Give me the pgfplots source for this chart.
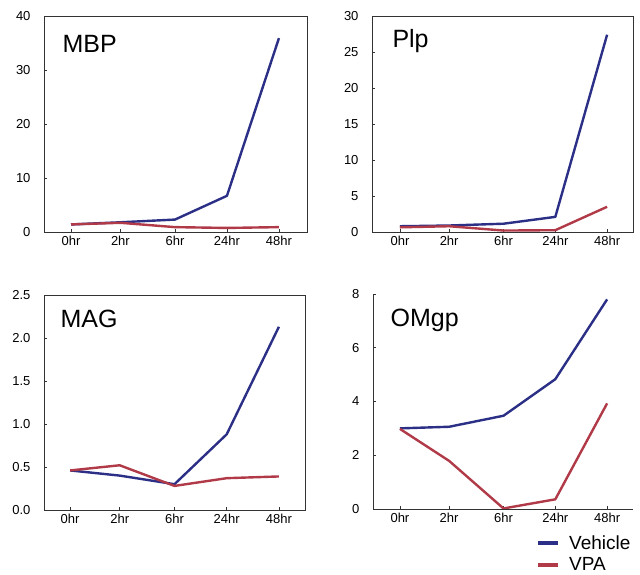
\documentclass[border=0pt]{standalone}
\usepackage{pgfplots}
\pgfplotsset{compat=1.18}
\usepackage{fontspec}
\setmainfont{Liberation Sans}
\definecolor{veh}{HTML}{2B2F86}
\definecolor{vpa}{HTML}{B03A48}
\tikzset{ttl/.style={anchor=base west, font=\fontsize{25}{28}\selectfont}}
\pgfplotsset{
  panel/.style={
    scale only axis,
    anchor=south west,
    axis line style={black!80, line width=0.7pt},
    xtick={0,0.95,2,3,4},
    xticklabels={0hr,2hr,6hr,24hr,48hr},
    tick style={black!80, line width=0.6pt},
    major tick length=3pt,
    tick align=inside,
    /pgf/number format/assume math mode=true,
    ticklabel style={font=\fontsize{13}{14}\selectfont},
    yticklabel style={xshift=-10pt},
    xticklabel style={yshift=-1pt},
    xtick pos=bottom, ytick pos=left,
    every axis plot/.append style={line width=2.4pt, line join=round},
  },
}
\begin{document}
\begin{tikzpicture}
\useasboundingbox (0pt,0pt) rectangle (640pt,575pt);
% MBP
\begin{axis}[panel, at={(44pt,343pt)}, width=263pt, height=216pt,
  xmin=-0.52, xmax=4.54, ymin=0, ymax=40, ytick={0,10,20,30,40}]
\addplot[veh] coordinates {(0,1.4) (0.95,1.8) (2,2.3) (3,6.7) (4,35.9)};
\addplot[vpa] coordinates {(0,1.4) (0.95,1.7) (2,0.9) (3,0.75) (4,0.9)};
\node[ttl] at (rel axis cs:0.057,0.829) {MBP};
\end{axis}
% Plp
\begin{axis}[panel, at={(372pt,343pt)}, width=261pt, height=216pt,
  xmin=-0.54, xmax=4.5, ymin=0, ymax=30, ytick={0,5,10,15,20,25,30}]
\addplot[veh] coordinates {(0,0.8) (0.95,0.9) (2,1.15) (3,2.1) (4,27.4)};
\addplot[vpa] coordinates {(0,0.65) (0.95,0.8) (2,0.2) (3,0.25) (4,3.5)};
\node[ttl] at (rel axis cs:0.065,0.856) {Plp};
\end{axis}
% MAG
\begin{axis}[panel, at={(44pt,65pt)}, width=261pt, height=215pt,
  xmin=-0.5, xmax=4.5, ymin=0, ymax=2.5, ytick={0,0.5,1,1.5,2,2.5},
  yticklabel style={/pgf/number format/.cd, fixed, fixed zerofill, precision=1}]
\addplot[veh] coordinates {(0,0.46) (0.95,0.40) (2,0.30) (3,0.88) (4,2.13)};
\addplot[vpa] coordinates {(0,0.46) (0.95,0.52) (2,0.28) (3,0.37) (4,0.39)};
\node[ttl] at (rel axis cs:0.05,0.851) {MAG};
\end{axis}
% OMgp
\begin{axis}[panel, at={(373pt,66pt)}, width=260pt, height=215pt,
  axis x line*=bottom, axis y line*=left,
  xmin=-0.52, xmax=4.5, ymin=0, ymax=8, ytick={0,2,4,6,8},
  legend cell align=left,
  legend image code/.code={\draw[#1, line width=3.5pt] (0pt,0pt) -- (20pt,0pt); \path (28pt,0pt);},
  legend style={font=\fontsize{19}{22}\selectfont, draw=none, fill=none,
    inner sep=0pt, row sep=3pt, at={(0.627,-0.112)}, anchor=north west}]
\addplot[veh] coordinates {(0,3.0) (0.95,3.06) (2,3.47) (3,4.83) (4,7.8)};
\addplot[vpa] coordinates {(0,2.98) (0.95,1.79) (2,0.02) (3,0.36) (4,3.93)};
\legend{Vehicle,VPA}
\node[ttl] at (rel axis cs:0.054,0.847) {OMgp};
\end{axis}
\end{tikzpicture}
\end{document}
